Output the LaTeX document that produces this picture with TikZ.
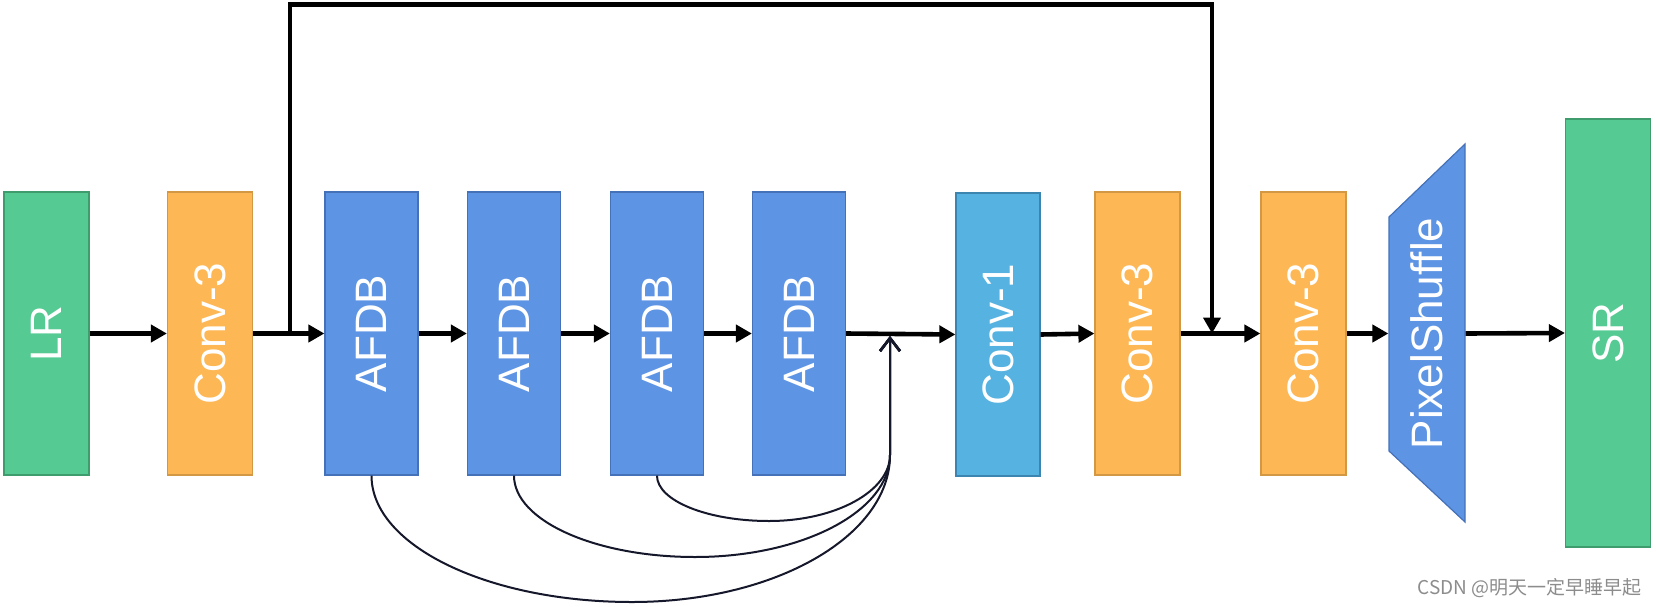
\documentclass[tikz,border=0pt]{standalone}
\usepackage{fontspec}
\setmainfont{Liberation Sans}
\newfontfamily\cjkfont{Noto Sans CJK SC}
\usetikzlibrary{arrows.meta}

\definecolor{boxgreen}{HTML}{55CA93}
\definecolor{edgegreen}{HTML}{3F9C6D}
\definecolor{boxorange}{HTML}{FDB754}
\definecolor{edgeorange}{HTML}{D39844}
\definecolor{boxblue}{HTML}{5E94E4}
\definecolor{edgeblue}{HTML}{4471B8}
\definecolor{boxcyan}{HTML}{56B3E1}
\definecolor{edgecyan}{HTML}{3C85B0}
\definecolor{curvecol}{HTML}{15172A}

\tikzset{
    block/.style={draw, line width=0.6pt, inner sep=0pt, text=white,
        minimum height=141.5pt, font=\fontsize{22}{26}\selectfont},
    lrbox/.style={block, fill=boxgreen, draw=edgegreen, minimum width=42.5pt},
    convbox/.style={block, fill=boxorange, draw=edgeorange, minimum width=42.5pt},
    afdbbox/.style={block, fill=boxblue, draw=edgeblue, minimum width=46.5pt},
    onebox/.style={block, fill=boxcyan, draw=edgecyan, minimum width=42pt},
    flow/.style={line width=2.3pt, -{Triangle[length=8pt,width=8.5pt]}},
    fuse/.style={draw=curvecol, line width=1pt,
        -{Straight Barb[length=6.5pt,width=10pt,line width=1.3pt]}}
}

\begin{document}
\begin{tikzpicture}[x=0.5pt, y=-0.5pt]
    \useasboundingbox (0,0) rectangle (1656,606);
    \node[lrbox] (lr) at (46.5,333.5) {\rotatebox{90}{LR}};
    \node[convbox] (conva) at (210,333.5) {\rotatebox{90}{Conv-3}};
    \foreach \n/\xx in {1/371.5, 2/514, 3/657, 4/799}
    {
        \node[afdbbox] (afdb\n) at (\xx,333.5) {\rotatebox{90}{AFDB}};
    }
    \node[onebox] (convone) at (998,334.5) {\rotatebox{90}{Conv-1}};
    \node[convbox] (convb) at (1137.5,333.5) {\rotatebox{90}{Conv-3}};
    \node[convbox] (convc) at (1303.5,333.5) {\rotatebox{90}{Conv-3}};
    \draw[fill=boxblue, draw=edgeblue, line width=0.6pt]
        (1389,217) -- (1465,144) -- (1465,522) -- (1389,451) -- cycle;
    \node[block, draw=none, minimum width=38pt] (ps) at (1427,333.5) {\rotatebox{90}{PixelShuffle}};
    \node[lrbox, minimum height=214pt] (sr) at (1608,333) {\rotatebox{90}{SR}};

    \coordinate (sk1) at (290,333.5);
    \coordinate (sk2) at (1212,333.5);
    \coordinate (bend) at (890,455);
    \coordinate (merge) at (890,336);

    \draw[flow] (lr.east) -- (conva.west);
    \draw[flow] (conva.east) -- (afdb1.west);
    \foreach \a/\b in {1/2, 2/3, 3/4}
    {
        \draw[flow] (afdb\a.east) -- (afdb\b.west);
    }
    \draw[flow] (afdb4.east) -- (convone.west);
    \draw[flow] (convone.east) -- (convb.west);
    \draw[flow] (convb.east) -- (convc.west);
    \draw[flow] (convc.east) -- (ps.west);
    \draw[flow] (ps.east) -- (sr.west);
    \draw[flow] (sk1) -- ++(0,-329) -| (sk2);

    \foreach \n/\bx/\by/\a/\b/\c/\d in {1/632/602/70/144/143/81, 2/695/557/45/100/108/56, 3/769/521/25/62/67/36}
    {
        \draw[fuse] (afdb\n.south) .. controls +(0,\a) and +(-\b,0) .. (\bx,\by)
            .. controls +(\c,0) and +(0,\d) .. (bend) -- (merge);
    }

    \node[anchor=east, text=black!45, inner sep=0pt] (mark) at (1642,588)
        {\cjkfont\fontsize{9.5}{11}\selectfont CSDN @明天一定早睡早起};
\end{tikzpicture}
\end{document}
